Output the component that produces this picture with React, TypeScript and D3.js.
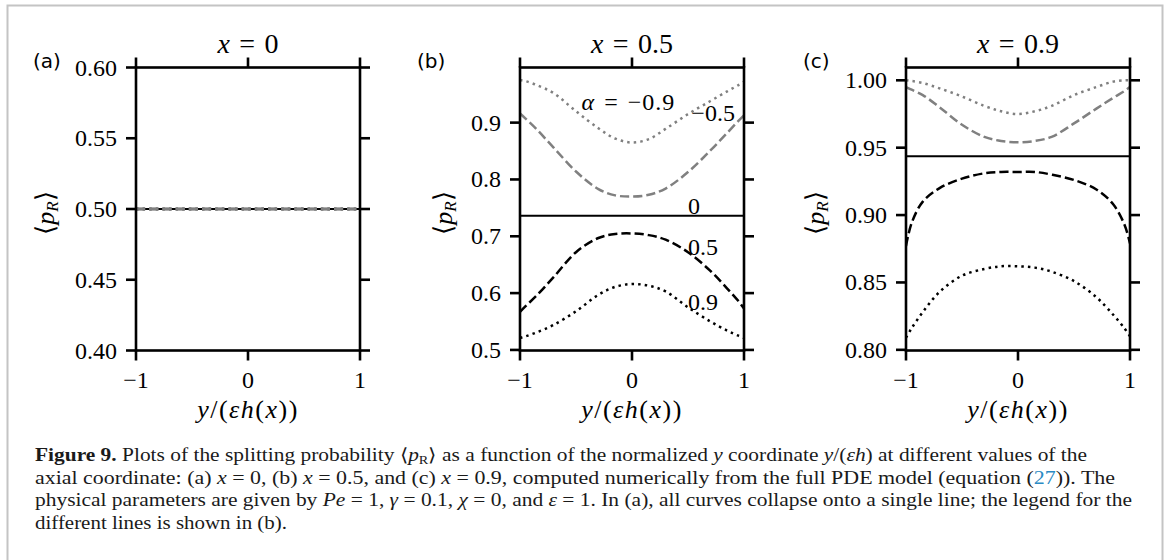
import React from 'react';
import * as d3 from 'd3';

const Y_GRID = [-1, -0.95, -0.85, -0.7, -0.5, -0.3, -0.15, 0, 0.15, 0.3, 0.5, 0.7, 0.85, 0.95, 1];
const Y_ENDS = [-1, 1];

// panel (a): x = 0, every alpha collapses on 0.5
const aAlphaM09 = [0.5, 0.5];
const aAlphaM05 = [0.5, 0.5];
const aAlpha0 = [0.5, 0.5];
const aAlpha05 = [0.5, 0.5];
const aAlpha09 = [0.5, 0.5];

// panel (b): x = 0.5
const bAlphaM09 = [0.975, 0.973, 0.966, 0.952, 0.92, 0.89, 0.872, 0.865, 0.871, 0.889, 0.915, 0.938, 0.955, 0.966, 0.972];
const bAlphaM05 = [0.916, 0.907, 0.888, 0.856, 0.814, 0.783, 0.772, 0.77, 0.773, 0.784, 0.813, 0.851, 0.882, 0.903, 0.913];
const bAlpha0 = [0.736, 0.736];
const bAlpha05 = [0.567, 0.577, 0.596, 0.628, 0.672, 0.697, 0.704, 0.705, 0.702, 0.694, 0.672, 0.639, 0.608, 0.586, 0.573];
const bAlpha09 = [0.521, 0.524, 0.531, 0.544, 0.568, 0.597, 0.611, 0.616, 0.613, 0.603, 0.575, 0.55, 0.534, 0.525, 0.521];

// panel (c): x = 0.9
const cAlphaM09 = [1.0, 0.9995, 0.998, 0.994, 0.988, 0.981, 0.977, 0.975, 0.977, 0.981, 0.989, 0.995, 0.999, 1.0, 1.0];
const cAlphaM05 = [0.995, 0.993, 0.989, 0.98, 0.967, 0.958, 0.955, 0.954, 0.955, 0.958, 0.968, 0.979, 0.987, 0.992, 0.995];
const cAlpha0 = [0.9437, 0.9437];
const cAlpha05 = [0.877, 0.894, 0.91, 0.92, 0.927, 0.931, 0.932, 0.932, 0.932, 0.93, 0.926, 0.919, 0.908, 0.893, 0.879];
const cAlpha09 = [0.809, 0.816, 0.828, 0.843, 0.855, 0.86, 0.862, 0.862, 0.861, 0.858, 0.851, 0.839, 0.826, 0.816, 0.81];

const X_TICKS = [-1, 0, 1];
const X_TICK_LABELS = ['\u22121', '0', '1'];
const A_TICKS = [0.4, 0.45, 0.5, 0.55, 0.6];
const A_TICK_LABELS = ['0.40', '0.45', '0.50', '0.55', '0.60'];
const B_TICKS = [0.5, 0.6, 0.7, 0.8, 0.9];
const B_TICK_LABELS = ['0.5', '0.6', '0.7', '0.8', '0.9'];
const C_TICKS = [0.8, 0.85, 0.9, 0.95, 1.0];
const C_TICK_LABELS = ['0.80', '0.85', '0.90', '0.95', '1.00'];

// alpha labels written inside panel (b), data coordinates
const B_NOTES = [
  { text: '\u22120.9', alpha: true, x: -0.45, y: 0.922 },
  { text: '\u22120.5', alpha: false, x: 0.53, y: 0.903 },
  { text: '0', alpha: false, x: 0.5, y: 0.739 },
  { text: '0.5', alpha: false, x: 0.5, y: 0.667 },
  { text: '0.9', alpha: false, x: 0.5, y: 0.57 },
];

const GRAY = '#808080';
const SERIF = 'Liberation Serif';
const SANS = 'DejaVu Sans';
const SP = '\u2004'; // math-ish space around "="
const TOP = 67.5;
const BOTTOM = 350.5;
const TICK = 10;

type Series = { xs: number[]; ys: number[]; color: string; dash: string; width: number };

// alpha = 0.9, 0.5, 0, -0.5, -0.9 (gray ones end up on top)
const styles = [
  { color: '#000', dash: '2.5,4.1', width: 2.5 },
  { color: '#000', dash: '9.2,4', width: 2.5 },
  { color: '#000', dash: '', width: 2 },
  { color: GRAY, dash: '9.2,4', width: 2.5 },
  { color: GRAY, dash: '2.5,4.1', width: 2.5 },
];

const build = (vals: number[][]): Series[] =>
  vals.map((ys, i) => ({ xs: ys.length === 2 ? Y_ENDS : Y_GRID, ys, ...styles[i] }));

const panels = [
  {
    id: 'a', left: 136, right: 360, title: '0', domain: [0.4, 0.6],
    ticks: A_TICKS, labels: A_TICK_LABELS,
    series: build([aAlpha09, aAlpha05, aAlpha0, aAlphaM05, aAlphaM09]), notes: [],
  },
  {
    id: 'b', left: 520, right: 744, title: '0.5', domain: [0.499, 0.997],
    ticks: B_TICKS, labels: B_TICK_LABELS,
    series: build([bAlpha09, bAlpha05, bAlpha0, bAlphaM05, bAlphaM09]), notes: B_NOTES,
  },
  {
    id: 'c', left: 906, right: 1130, title: '0.9', domain: [0.7995, 1.0095],
    ticks: C_TICKS, labels: C_TICK_LABELS,
    series: build([cAlpha09, cAlpha05, cAlpha0, cAlphaM05, cAlphaM09]), notes: [],
  },
];

const Panel = ({ p }: { p: (typeof panels)[number] }) => {
  const x = d3.scaleLinear().domain([-1, 1]).range([p.left, p.right]);
  const y = d3.scaleLinear().domain(p.domain).range([BOTTOM, TOP]);
  const mid = (p.left + p.right) / 2;
  const line = d3
    .line<[number, number]>()
    .x(d => x(d[0]))
    .y(d => y(d[1]))
    .curve(d3.curveCatmullRom.alpha(0.5));
  const wide = p.labels[0].length > 3;

  return (
    <g>
      <defs>
        <clipPath id={`clip-${p.id}`}>
          <rect x={p.left} y={TOP} width={p.right - p.left} height={BOTTOM - TOP} />
        </clipPath>
      </defs>

      <g clipPath={`url(#clip-${p.id})`}>
        {p.series.map((s, i) => (
          <path
            key={i}
            d={line(s.xs.map((v, j) => [v, s.ys[j]] as [number, number])) || ''}
            fill="none"
            stroke={s.color}
            strokeWidth={s.width}
            strokeDasharray={s.dash || undefined}
          />
        ))}
      </g>

      {/* spines */}
      <rect x={p.left} y={TOP} width={p.right - p.left} height={BOTTOM - TOP} fill="none" stroke="#000" strokeWidth={2.6} />

      {/* ticks on all four sides, pointing out */}
      {p.ticks.map(t => (
        <g key={`y${t}`}>
          <line x1={p.left - TICK} x2={p.left} y1={y(t)} y2={y(t)} stroke="#000" strokeWidth={2.6} />
          <line x1={p.right} x2={p.right + TICK} y1={y(t)} y2={y(t)} stroke="#000" strokeWidth={2.6} />
        </g>
      ))}
      {X_TICKS.map(t => (
        <g key={`x${t}`}>
          <line x1={x(t)} x2={x(t)} y1={BOTTOM} y2={BOTTOM + TICK} stroke="#000" strokeWidth={2.6} />
          <line x1={x(t)} x2={x(t)} y1={TOP - TICK} y2={TOP} stroke="#000" strokeWidth={2.6} />
        </g>
      ))}

      {p.ticks.map((t, i) => (
        <text key={t} x={p.left - TICK - 9} y={y(t) + 8} textAnchor="end" fontFamily={SERIF} fontSize={24}>
          {p.labels[i]}
        </text>
      ))}
      {X_TICKS.map((t, i) => (
        <text key={t} x={x(t)} y={BOTTOM + 37} textAnchor="middle" fontFamily={SERIF} fontSize={24}>
          {X_TICK_LABELS[i]}
        </text>
      ))}
      <text x={mid} y={53} textAnchor="middle" fontFamily={SERIF} fontSize={28}>
        <tspan fontStyle="italic">x</tspan>
        {`${SP}=${SP}${p.title}`}
      </text>
      <text x={mid} y={418} textAnchor="middle" fontFamily={SERIF} fontSize={26} letterSpacing={1.5}>
        <tspan fontStyle="italic">y</tspan>/(<tspan fontStyle="italic">εh</tspan>(<tspan fontStyle="italic">x</tspan>))
      </text>
      <text
        transform={`translate(${p.left - (wide ? 82 : 68)},${(TOP + BOTTOM) / 2 + 4}) rotate(-90)`}
        textAnchor="middle"
        fontFamily={SERIF}
        fontSize={26}
      >
        ⟨<tspan fontStyle="italic">p</tspan>
        <tspan fontStyle="italic" fontSize={17} dy={4}>R</tspan>
        <tspan dy={-4}>⟩</tspan>
      </text>
      {p.notes.map(n => (
        <text key={n.text} x={x(n.x)} y={y(n.y)} fontFamily={SERIF} fontSize={24} letterSpacing={n.alpha ? 1 : 0}>
          {n.alpha ? (
            <>
              <tspan fontStyle="italic">α</tspan>
              {`${SP}=${SP}${n.text}`}
            </>
          ) : (
            n.text
          )}
        </text>
      ))}

      <text x={p.left - 103} y={68} fontFamily={SANS} fontSize={20} fill="#000">
        ({p.id})
      </text>
    </g>
  );
};

const CAP_X = 35;
const CAP_SIZE = 18;

const App = () => (
  <svg width={1170} height={560} style={{ position: 'absolute', left: 0, top: 0, background: '#fff' }}>
    <rect x={7.5} y={5.5} width={1155} height={600} fill="none" stroke="#c4c4c4" strokeWidth={2} />

    {panels.map(p => (
      <Panel key={p.id} p={p} />
    ))}

    <g fontFamily={SERIF} fontSize={CAP_SIZE} fill="#1a1a1a">
      <text x={CAP_X} y={461} textLength={1052} lengthAdjust="spacingAndGlyphs">
        <tspan fontWeight="bold">Figure 9.</tspan> Plots of the splitting probability ⟨<tspan fontStyle="italic">p</tspan>
        <tspan fontSize={12} dy={3}>R</tspan>
        <tspan dy={-3}>⟩ as a function of the normalized </tspan>
        <tspan fontStyle="italic">y</tspan> coordinate <tspan fontStyle="italic">y</tspan>/(<tspan fontStyle="italic">εh</tspan>) at
        different values of the
      </text>
      <text x={CAP_X} y={483.5} textLength={1080} lengthAdjust="spacingAndGlyphs">
        axial coordinate: (a) <tspan fontStyle="italic">x</tspan> = 0, (b) <tspan fontStyle="italic">x</tspan> = 0.5, and (c){' '}
        <tspan fontStyle="italic">x</tspan> = 0.9, computed numerically from the full PDE model (equation (
        <tspan fill="#2a8ac4">27</tspan>)). The
      </text>
      <text x={CAP_X} y={506} textLength={1097} lengthAdjust="spacingAndGlyphs">
        physical parameters are given by <tspan fontStyle="italic">Pe</tspan> = 1, <tspan fontStyle="italic">γ</tspan> = 0.1,{' '}
        <tspan fontStyle="italic">χ</tspan> = 0, and <tspan fontStyle="italic">ε</tspan> = 1. In (a), all curves collapse onto a
        single line; the legend for the
      </text>
      <text x={CAP_X} y={528.5} textLength={252} lengthAdjust="spacingAndGlyphs">
        different lines is shown in (b).
      </text>
    </g>
  </svg>
);

export default App;
